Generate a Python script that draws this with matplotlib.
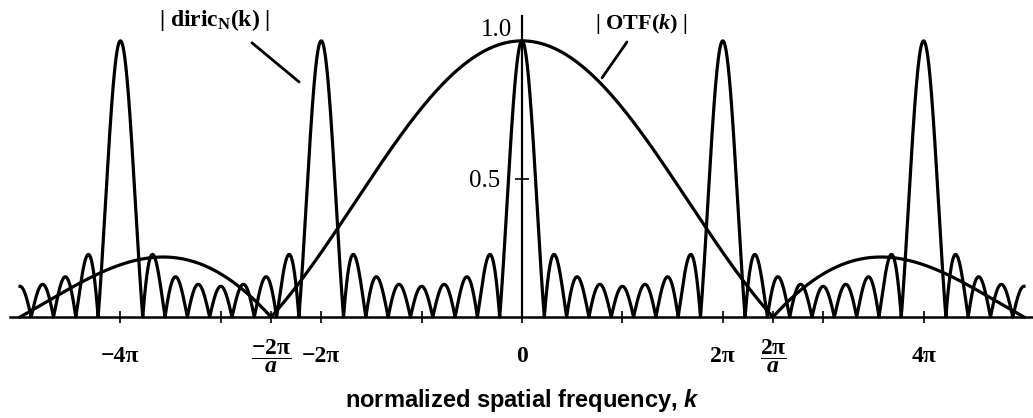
import numpy as np
import matplotlib
matplotlib.use("Agg")
import matplotlib.pyplot as plt

# ---- parameters ----
N_APERTURES = 9            # 7 side lobes between principal peaks -> N = 9
A_FILL = 0.8               # OTF first zero at 2*pi/a = 2.5*pi
K_RANGE = (-5.0, 5.0)      # curves drawn over k in [-5pi, 5pi] (units of pi)

tick_positions = [-4, -3, -2.5, -2, -1, 0, 1, 2, 2.5, 3, 4]   # in units of pi
tick_labels = ["\u22124\u03c0", "", r"$\dfrac{-\mathrm{2\pi}}{a}$", "\u22122\u03c0", "",
               "0", "", "2\u03c0", r"$\dfrac{\mathrm{2\pi}}{a}$", "", "4\u03c0"]
ytick_values = [0.5, 1.0]
ytick_labels = ["0.5", ""]

plt.rcParams['mathtext.fontset'] = 'custom'
plt.rcParams['mathtext.rm'] = 'Liberation Serif:bold'
plt.rcParams['mathtext.it'] = 'Liberation Serif:italic:bold'
plt.rcParams['mathtext.bf'] = 'Liberation Serif:bold'
plt.rcParams['mathtext.sf'] = 'Liberation Sans:italic:bold'
plt.rcParams['font.family'] = ['Liberation Serif', 'DejaVu Sans']

k = np.linspace(K_RANGE[0] * np.pi, K_RANGE[1] * np.pi, 40001)
half = k / 2.0
s = np.sin(half)
with np.errstate(divide='ignore', invalid='ignore'):
    diric = np.where(np.abs(s) < 1e-12, 1.0,
                     np.sin(N_APERTURES * half) / (N_APERTURES * s))
diric = np.abs(diric)
otf = np.abs(np.sinc(k * A_FILL / (2 * np.pi)))

W, H = 1033, 418
fig = plt.figure(figsize=(W / 100, H / 100), dpi=100)
ax = fig.add_axes([10 / W, 101 / H, 1024 / W, 301 / H])
ax.set_xlim(-5.1 * np.pi, 5.1 * np.pi)
ax.set_ylim(0, 1.09)

ax.plot(k, diric, color='black', lw=2.3, clip_on=False)
ax.plot(k, otf, color='black', lw=2.3, clip_on=False)

for side in ['top', 'right']:
    ax.spines[side].set_visible(False)
ax.spines['left'].set_position(('data', 0))
ax.spines['left'].set_linewidth(1.6)
ax.spines['bottom'].set_linewidth(1.8)

ax.set_xticks(np.array(tick_positions) * np.pi, tick_labels)
ax.tick_params(axis='x', direction='inout', length=8, width=1.2, pad=24.5,
               labelsize=17)
for lab in ax.get_xticklabels():
    lab.set_fontweight('bold')
    lab.set_verticalalignment('center')

ax.set_yticks(ytick_values, ytick_labels)
ax.tick_params(axis='y', direction='inout', length=10, width=1.2, pad=11,
               labelsize=18)
ax.annotate("1.0", xy=(0, 1.0), xytext=(-7, 8), textcoords='offset points',
            ha='right', va='center', fontsize=18)

ax.set_xlabel("normalized spatial frequency, $\\mathsf{k}$",
              fontfamily='Liberation Sans', fontweight='bold', fontsize=17,
              va='center')
ax.xaxis.set_label_coords(0.5, -0.276)

# curve labels with leader lines
ax.text(-3.06 * np.pi, 1.076, r"| diric$_{\mathrm{N}}$(k) |", ha='center',
        va='center', fontsize=17, fontweight='bold')
ax.annotate("", xy=(-2.22 * np.pi, 0.851), xytext=(-2.69 * np.pi, 0.993),
            arrowprops=dict(arrowstyle='-', lw=2.0, color='black',
                            shrinkA=0, shrinkB=0))
ax.text(1.19 * np.pi, 1.06, r"| OTF($k$) |", ha='center', va='center',
        fontsize=16, fontweight='bold')
ax.annotate("", xy=(0.797 * np.pi, 0.866), xytext=(1.046 * np.pi, 0.996),
            arrowprops=dict(arrowstyle='-', lw=2.0, color='black',
                            shrinkA=0, shrinkB=0))

fig.savefig("out.png", dpi=100)
